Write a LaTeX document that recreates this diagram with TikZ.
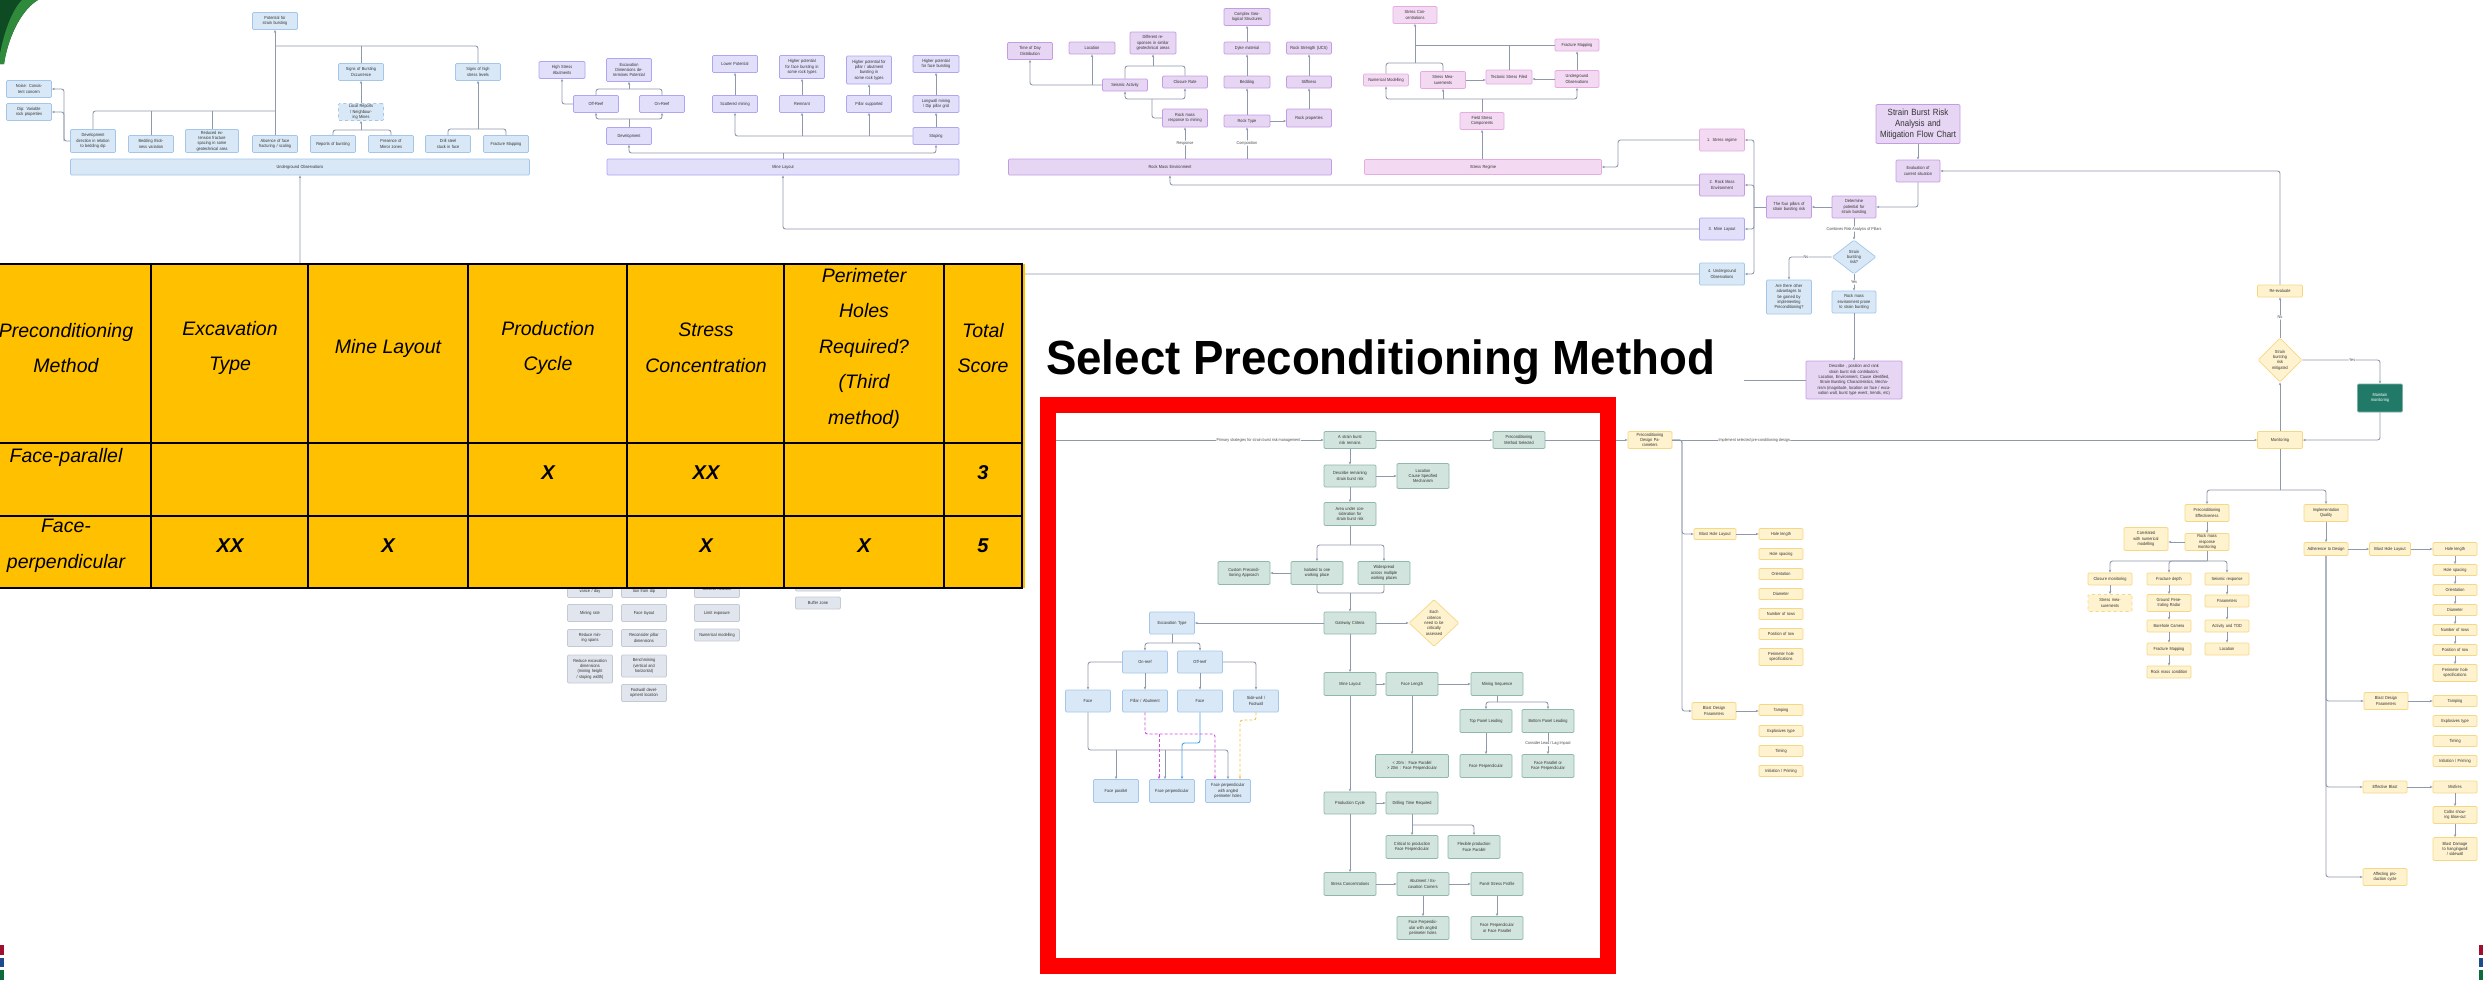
\documentclass[tikz,border=0pt]{standalone}
\usepackage{fontspec}
\setmainfont{Liberation Sans}
\newfontfamily\nf[FakeStretch=0.88]{Liberation Sans}
\newfontfamily\headf[FakeStretch=0.95]{Liberation Sans}
\usetikzlibrary{arrows.meta,shapes.geometric}

\definecolor{cLine}{HTML}{8E9AAB}
\definecolor{cBlueF}{HTML}{D9E8F6}
\definecolor{cBlueD}{HTML}{A3C6EA}
\definecolor{cLavF}{HTML}{E1DFFA}
\definecolor{cLavD}{HTML}{ADA6F0}
\definecolor{cPurF}{HTML}{E6D5F3}
\definecolor{cPurD}{HTML}{C59CE3}
\definecolor{cPinkF}{HTML}{F4D9F2}
\definecolor{cPinkD}{HTML}{E5ACE1}
\definecolor{cGrnF}{HTML}{D2E4DE}
\definecolor{cGrnD}{HTML}{8FB8AB}
\definecolor{cYelF}{HTML}{FFF2CE}
\definecolor{cYelD}{HTML}{F5D884}
\definecolor{cGryF}{HTML}{E1E5ED}
\definecolor{cGryD}{HTML}{C3CAD6}
\definecolor{cTeal}{HTML}{217A68}
\definecolor{cTab}{HTML}{FFC000}
\definecolor{cRed}{HTML}{FF0000}
\definecolor{cMag}{HTML}{D24BE0}
\definecolor{cAzure}{HTML}{4A9FE6}
\definecolor{cAmber}{HTML}{F4C040}
\definecolor{cLogoA}{HTML}{0E4A22}
\definecolor{cLogoB}{HTML}{2F8A3C}
\definecolor{cFlagR}{HTML}{A0102E}
\definecolor{cFlagB}{HTML}{1E4B8E}
\definecolor{cFlagG}{HTML}{0C6B3B}

\tikzset{
  sz/.code 2 args={\pgfmathsetmacro\bxtw{#1*0.75}\edef\bxtmp{\noexpand\tikzset{minimum width=#1pt,minimum height=#2pt,text width=\bxtw pt}}\bxtmp},
  one/.style={text width=41pt},
  nb/.style={draw, line width=0.7pt, rounded corners=1.2pt, align=center, inner xsep=0pt, inner ysep=0.3pt, font=\nf\fontsize{4.4}{5.4}\selectfont, text=black!80},
  uo/.style={nb, fill=cBlueF, draw=cBlueD},
  ml/.style={nb, fill=cLavF, draw=cLavD},
  rm/.style={nb, fill=cPurF, draw=cPurD},
  sr/.style={nb, fill=cPinkF, draw=cPinkD},
  gn/.style={nb, fill=cGrnF, draw=cGrnD},
  yl/.style={nb, fill=cYelF, draw=cYelD},
  gy/.style={nb, fill=cGryF, draw=cGryD},
  ln/.style={draw=cLine, line width=0.9pt, rounded corners=2.5pt},
  ar/.style={ln, -{Stealth[length=3pt,width=2.4pt]}},
  mg/.style={draw=cMag, line width=0.9pt, dash pattern=on 3pt off 2pt, rounded corners=2.5pt, -{Stealth[length=3pt,width=2.4pt]}},
  bl/.style={draw=cAzure, line width=0.9pt, rounded corners=2.5pt, -{Stealth[length=3pt,width=2.4pt]}},
  am/.style={draw=cAmber, line width=0.9pt, dash pattern=on 3pt off 2pt, rounded corners=2.5pt, -{Stealth[length=3pt,width=2.4pt]}},
  lbl/.style={fill=white, inner sep=0.6pt, font=\nf\fontsize{4.2}{5}\selectfont, text=black!70},
  th/.style={align=center, font=\itshape\fontsize{19.5}{35.5}\selectfont, inner sep=0pt},
  tx/.style={font=\bfseries\itshape\fontsize{20}{24}\selectfont, inner sep=0pt},
}

\begin{document}
\begin{tikzpicture}[x=1pt,y=-1pt]
\fill[white] (0,0) rectangle (2483,980);
\useasboundingbox (0,0) rectangle (2483,980);

% corner logo and flag bars
\fill[cLogoA] (0,0) -- (38,0) .. controls (24,8) and (9,32) .. (4,64) -- (0,64) -- cycle;
\fill[cLogoB] (22,0) -- (38,0) .. controls (24,8) and (9,32) .. (4,64) -- (0,64) -- (0,54) .. controls (4,32) and (12,10) .. (22,0) -- cycle;
\foreach \xx in {0,2479}{
  \fill[cFlagR] (\xx,945) rectangle ++(4,10);
  \fill[cFlagB] (\xx,958) rectangle ++(4,9);
  \fill[cFlagG] (\xx,970) rectangle ++(4,10);
}

% ---------- Underground observations ----------
\node[uo,sz={45}{17}] (P0) at (275,21) {Potential for strain bursting};
\node[uo,sz={45}{17}] (SB) at (361,72) {Signs of Bursting Occurrence};
\node[uo,sz={45}{17}] (SH) at (478,72) {Signs of high stress levels};
\node[uo,sz={45}{17},dashed] (LR) at (361,112) {Local Reports / Neighbouring Mines};
\node[uo,sz={45}{17}] (NZ) at (29,89) {Noise: Consistent concern};
\node[uo,sz={45}{17}] (DP) at (29,112) {Dip: Variable rock properties};
\node[uo,sz={45}{23}] (DV) at (93,141) {Development direction in relation to bedding dip};
\node[uo,sz={45}{17}] (BT) at (151,144) {Bedding thickness variation};
\node[uo,sz={53}{23}] (RE) at (212,141) {Reduced extension fracture spacing in some geotechnical area};
\node[uo,sz={45}{17}] (AF) at (275,144) {Absence of face fracturing / scaling};
\node[uo,sz={45}{17}] (RB) at (333,144) {Reports of bursting};
\node[uo,sz={45}{17}] (MZ) at (391,144) {Presence of Mirror zones};
\node[uo,sz={45}{17}] (DS) at (448,144) {Drill steel stuck in face};
\node[uo,sz={45}{17}] (FM1) at (506,144) {Fracture Mapping};
\node[uo,sz={459}{16}] (UO) at (300,167) {Underground Observations};

\coordinate (j1) at (275,111);
\coordinate (j2) at (275,46);
\draw[ln] (DV.north) |- (j1);
\draw[ln] (BT.north) -- (BT.north |- j1);
\draw[ln] (RE.north) -- (RE.north |- j1);
\draw[ar] (AF.north) -- (P0.south);
\draw[ln] (SH.north) |- (j2);
\draw[ln] (SB.north) -- (SB.north |- j2);
\coordinate (j3) at (361,130);
\draw[ln] (RB.north) |- (j3) -| (MZ.north);
\draw[ar] (j3) -- (LR.south);
\draw[ar] (LR.north) -- (SB.south);
\coordinate (j4) at (478,129);
\draw[ln] (DS.north) |- (j4) -| (FM1.north);
\draw[ar] (j4) -- (SH.south);
\coordinate (j5) at (64,141);
\draw[ar] (DV.west) -- (j5) |- (NZ.east);
\draw[ar] (j5) |- (DP.east);

% ---------- Mine layout ----------
\node[ml,sz={46}{17}] (HS) at (562,70) {High Stress Abutments};
\node[ml,sz={45}{23}] (XD) at (629,70) {Excavation Dimensions determines Potential};
\node[ml,sz={45}{17}] (OFF) at (596,104) {Off-Reef};
\node[ml,sz={45}{17}] (ON) at (662,104) {On-Reef};
\node[ml,sz={45}{17}] (DEV) at (629,136) {Development};
\node[ml,sz={45}{17}] (SC) at (735,104) {Scattered mining};
\node[ml,sz={45}{17}] (RM) at (802,104) {Remnant};
\node[ml,sz={45}{17}] (PS) at (869,104) {Pillar supported};
\node[ml,sz={46}{17}] (LW) at (936,104) {Longwall mining / Dip pillar grid};
\node[ml,sz={46}{17}] (ST) at (936,136) {Stoping};
\node[ml,sz={45}{17}] (LP) at (735,64) {Lower Potential};
\node[ml,sz={45}{23}] (HF1) at (802,67) {Higher potential for face bursting in some rock types};
\node[ml,sz={45}{28}] (HP) at (869,70) {Higher potential for pillar / abutment bursting in some rock types};
\node[ml,sz={46}{17}] (HF2) at (936,64) {Higher potential for face bursting};
\node[ml,sz={352}{16}] (ML) at (783,167) {Mine Layout};

\coordinate (k1) at (783,153);
\draw[ln] (ML.north) -- (k1);
\draw[ar] (k1) -| (DEV.south);
\draw[ar] (k1) -| (ST.south);
\coordinate (k2) at (629,119);
\draw[ln] (DEV.north) -- (k2);
\draw[ar] (k2) -| (OFF.south);
\draw[ar] (k2) -| (ON.south);
\coordinate (k3) at (629,89);
\draw[ln] (OFF.north) |- (k3) -| (ON.north);
\draw[ar] (k3) -- (XD.south);
\draw[ar] (OFF.west) -| (HS.south);
\draw[ar] (ST.west) -| (SC.south);
\draw[ar] (ST.west -| RM.south) -- (RM.south);
\draw[ar] (ST.west -| PS.south) -- (PS.south);
\draw[ar] (ST.north) -- (LW.south);
\draw[ar] (SC.north) -- (LP.south);
\draw[ar] (RM.north) -- (HF1.south);
\draw[ar] (PS.north) -- (HP.south);
\draw[ar] (LW.north) -- (HF2.south);

% ---------- Rock mass environment ----------
\node[rm,sz={45}{17}] (TD) at (1030,51) {Time of Day Distribution};
\node[rm,sz={46}{12}] (LO) at (1092,48) {Location};
\node[rm,sz={46}{22}] (DR) at (1153,43) {Different responses in similar geotechnical areas};
\node[rm,sz={46}{17}] (CG) at (1247,17) {Complex Geological Structures};
\node[rm,sz={46}{12}] (DY) at (1247,48) {Dyke material};
\node[rm,sz={45}{12},one] (RS) at (1309,48) {Rock Strength (UCS)};
\node[rm,sz={45}{12}] (SA) at (1125,85) {Seismic Activity};
\node[rm,sz={45}{12}] (CR) at (1185,82) {Closure Rate};
\node[rm,sz={46}{12}] (BD) at (1247,82) {Bedding};
\node[rm,sz={45}{12}] (SF) at (1309,82) {Stiffness};
\node[rm,sz={45}{18}] (RR) at (1185,118) {Rock mass response to mining};
\node[rm,sz={46}{12}] (RT) at (1247,121) {Rock Type};
\node[rm,sz={45}{18}] (RP) at (1309,118) {Rock properties};
\node[rm,sz={323}{16}] (RME) at (1170,167) {Rock Mass Environment};

\draw[ar] (RR |- RME.north) -- node[lbl]{Response} (RR.south);
\draw[ar] (RT |- RME.north) -- node[lbl]{Composition} (RT.south);
\coordinate (m1) at (1152,99);
\draw[ln] (RR.west) -| (m1);
\draw[ar] (m1) -| (SA.south);
\draw[ar] (m1) -| (CR.south);
\coordinate (m2) at (1153,66);
\draw[ln] (SA.north) |- (m2) -| (CR.north);
\draw[ar] (m2) -- (DR.south);
\draw[ar] (SA.west) -| (TD.south);
\draw[ar] (SA.west -| LO.south) -- (LO.south);
\draw[ar] (RT.north) -- (BD.south);
\draw[ar] (BD.north) -- (DY.south);
\draw[ar] (DY.north) -- (CG.south);
\draw[ar] (RT.east) -- (RT.east -| RP.west);
\draw[ar] (RP.north) -- (SF.south);
\draw[ar] (SF.north) -- (RS.south);

% ---------- Stress regime ----------
\node[sr,sz={44}{17}] (SCn) at (1415,15) {Stress Concentrations};
\node[sr,sz={45}{12},one] (NM) at (1386,80) {Numerical Modelling};
\node[sr,sz={45}{17}] (SM) at (1443,80) {Stress Measurements};
\node[sr,sz={46}{14},text width=42pt] (TS) at (1509,77) {Tectonic Stress Filed};
\node[sr,sz={44}{12}] (FM2) at (1577,45) {Fracture Mapping};
\node[sr,sz={44}{17}] (UO2) at (1577,79) {Underground Observations};
\node[sr,sz={44}{17}] (FS) at (1482,121) {Field Stress Components};
\node[sr,sz={237}{15}] (SRg) at (1483,167) {Stress Regime};

\draw[ar] (FS |- SRg.north) -- (FS.south);
\coordinate (n1) at (1482,99);
\draw[ln] (FS.north) -- (n1);
\draw[ar] (n1) -| (NM.south);
\draw[ar] (n1) -| (UO2.south);
\draw[ar] (n1 -| SM.south) -- (SM.south);
\coordinate (n2) at (1415,63);
\draw[ln] (NM.north) |- (n2) -| (SM.north);
\draw[ar] (n2) -- (SCn.south);
\draw[ln] (FM2.west) -- (FM2.west -| SCn.south);
\draw[ln] (TS.north) -- (TS.north |- FM2.west);
\draw[ar] (SM.east) -- (SM.east -| TS.west);
\draw[ar] (UO2.west) -- (UO2.west -| TS.east);
\draw[ar] (UO2.north) -- (FM2.south);

% ---------- Risk analysis ----------
\node[rm,minimum width=84pt,minimum height=39pt,text width=80pt,font=\nf\fontsize{9}{11.3}\selectfont] (T0) at (1918,124) {Strain Burst Risk Analysis and Mitigation Flow Chart};
\node[rm,sz={44}{22}] (EV) at (1918,171) {Evaluation of current situation};
\node[rm,sz={44}{22}] (DT) at (1854,207) {Determine potential for strain bursting};
\node[rm,sz={45}{22}] (FP) at (1789,207) {The four pillars of strain bursting risk};
\node[sr,sz={45}{22}] (PL1) at (1722,140) {1.\enspace Stress regime};
\node[rm,sz={45}{22}] (PL2) at (1722,185) {2.\enspace Rock Mass Environment};
\node[ml,sz={45}{22}] (PL3) at (1722,229) {3.\enspace Mine Layout};
\node[uo,sz={45}{22}] (PL4) at (1722,274) {4.\enspace Underground Observations};
\node[uo,shape=diamond,minimum width=44pt,minimum height=34pt,text width=16pt,inner sep=0pt] (DQ) at (1854,257) {Strain bursting risk?};
\node[uo,sz={45}{34}] (AO) at (1789,297) {Are there other advantages to be gained by implementing Preconditioning?};
\node[uo,sz={44}{22}] (RP2) at (1854,302) {Rock mass environment prone to strain bursting};
\node[rm,minimum width=96pt,minimum height=38pt,text width=86pt] (DE) at (1854,380) {Describe , position and rank strain burst risk contributors:\\Location, Environment, Cause identified, Strain Bursting Characteristics, Mechanism (magnitude, location on face / excavation wall, burst type event, trends, etc)};

\draw[ar] (T0.south) -- (EV.north);
\draw[ar] (EV.south) |- (DT.east);
\draw[ar] (DT.west) -- (FP.east);
\coordinate (q1) at (1754,207);
\draw[ln] (FP.west) -- (q1);
\foreach \p in {PL1,PL2,PL3,PL4} \draw[ar] (q1) |- (\p.east);
\draw[ar] (DT.south) -- node[lbl]{Combines Risk Analysis of Pillars} (DQ.north);
\draw[ar] (DQ.west) -| node[lbl,pos=0.3]{No} (AO.north);
\draw[ar] (DQ.south) -- node[lbl]{Yes} (RP2.north);
\draw[ar] (RP2.south) -- (DE.north);
\coordinate (q2) at (1744,380);
\draw[ln] (DE.west) -- (q2);
\coordinate (q3) at (1618,150);
\draw[ar] (PL1.west) -| (q3) |- (SRg.east);
\draw[ar] (PL2.west) -| (RME.south);
\draw[ar] (PL3.west) -| (ML.south);
\draw[ar] (PL4.west) -| (UO.south);

% ---------- Monitoring ----------
\node[yl,sz={45}{12}] (RV) at (2280,291) {Re-evaluate};
\node[yl,shape=diamond,minimum width=44pt,minimum height=44pt,text width=18pt,inner sep=0pt] (DM) at (2280,360) {Strain bursting risk mitigated};
\node[nb,sz={45}{28},fill=cTeal,draw=cTeal!60!white,text=white] (MM) at (2380,398) {Maintain monitoring};
\node[yl,sz={45}{17}] (MO) at (2280,440) {Monitoring};
\node[yl,sz={44}{17}] (PDP) at (1650,440) {Preconditioning Design Parameters};

\draw[ar] (MO.north) -- (DM.south);
\draw[ar] (DM.north) -- node[lbl]{No} (RV.south);
\draw[ar] (RV.north) |- (EV.east);
\draw[ar] (DM.east) -| node[lbl,pos=0.32]{Yes} (MM.north);
\draw[ar] (MM.south) |- (MO.east);
\draw[ar] (PDP.east) -- node[lbl,pos=0.14]{Implement selected pre-conditioning design} (MO.west);

\node[yl,sz={44}{17}] (PE) at (2207,513) {Preconditioning Effectiveness};
\node[yl,sz={44}{17}] (IQ) at (2326,513) {Implementation Quality};
\coordinate (r1) at (2280,490);
\draw[ln] (MO.south) -- (r1);
\draw[ar] (r1) -| (PE.north);
\draw[ar] (r1) -| (IQ.north);
\node[yl,sz={44}{17}] (RMR) at (2207,542) {Rock mass response monitoring};
\node[yl,sz={44}{23}] (CN) at (2146,539) {Correlated with numerical modelling};
\draw[ar] (PE.south) -- (RMR.north);
\draw[ar] (RMR.west) -- (RMR.west -| CN.east);

\node[yl,sz={44}{12}] (CM) at (2110,579) {Closure monitoring};
\node[yl,sz={44}{12}] (FD) at (2169,579) {Fracture depth};
\node[yl,sz={44}{12}] (SRp) at (2227,579) {Seismic response};
\coordinate (r2) at (2207,561);
\draw[ln] (RMR.south) -- (r2);
\draw[ar] (r2) -| (CM.north);
\draw[ar] (r2) -| (FD.north);
\draw[ar] (r2) -| (SRp.north);
\node[yl,sz={44}{17},dashed] (SMe) at (2110,603) {Stress measurements};
\node[yl,sz={44}{17}] (GPR) at (2169,603) {Ground Penetrating Radar};
\node[yl,sz={44}{12}] (PA) at (2227,601) {Parameters};
\node[yl,sz={44}{12}] (BC) at (2169,626) {Borehole Camera};
\node[yl,sz={44}{12}] (AT) at (2227,626) {Activity and TOD};
\node[yl,sz={44}{12}] (FMp) at (2169,649) {Fracture Mapping};
\node[yl,sz={44}{12}] (LOc) at (2227,649) {Location};
\node[yl,sz={44}{12},one] (RC) at (2169,672) {Rock mass condition};
\draw[ar] (CM.south) -- (SMe.north);
\draw[ar] (FD.south) -- (GPR.north);
\draw[ar] (GPR.south) -- (BC.north);
\draw[ar] (BC.south) -- (FMp.north);
\draw[ar] (FMp.south) -- (RC.north);
\draw[ar] (SRp.south) -- (PA.north);
\draw[ar] (PA.south) -- (AT.north);
\draw[ar] (AT.south) -- (LOc.north);

\node[yl,sz={44}{13},one] (AD) at (2326,549) {Adherence to Design};
\node[yl,sz={41}{13},one] (BHL2) at (2390,549) {Blast Hole Layout};
\node[yl,sz={44}{13}] (HL2) at (2455,549) {Hole length};
\node[yl,sz={44}{11}] (HS2) at (2455,570) {Hole spacing};
\node[yl,sz={44}{11}] (OR2) at (2455,590) {Orientation};
\node[yl,sz={44}{11}] (DI2) at (2455,610) {Diameter};
\node[yl,sz={44}{11}] (NR2) at (2455,630) {Number of rows};
\node[yl,sz={44}{11}] (PR2) at (2455,650) {Position of row};
\node[yl,sz={44}{17}] (PH2) at (2455,673) {Perimeter hole specifications};
\draw[ar] (IQ.south) -- (AD.north);
\draw[ar] (AD.east) -- (BHL2.west);
\draw[ar] (BHL2.east) -- (HL2.west);
\draw[ar] (HL2.south) -- (HS2.north);
\draw[ar] (HS2.south) -- (OR2.north);
\draw[ar] (OR2.south) -- (DI2.north);
\draw[ar] (DI2.south) -- (NR2.north);
\draw[ar] (NR2.south) -- (PR2.north);
\draw[ar] (PR2.south) -- (PH2.north);

\node[yl,sz={44}{17}] (BDP2) at (2386,701) {Blast Design Parameters};
\node[yl,sz={44}{11}] (TA2) at (2455,701) {Tamping};
\node[yl,sz={44}{11}] (EX2) at (2455,721) {Explosives type};
\node[yl,sz={44}{11}] (TI2) at (2455,741) {Timing};
\node[yl,sz={44}{11}] (IP2) at (2455,761) {Initiation / Priming};
\node[yl,sz={44}{12}] (EB) at (2385,787) {Effective Blast};
\node[yl,sz={44}{12}] (MF) at (2455,787) {Misfires};
\node[yl,sz={44}{17}] (CB) at (2455,815) {Collar showing blow-out};
\node[yl,sz={44}{23}] (BDm) at (2455,849) {Blast Damage to hangingwall / sidewall};
\node[yl,sz={44}{17}] (AP) at (2385,877) {Affecting production cycle};
\draw[ar] (BDP2.east) -- (TA2.west);
\draw[ar] (EB.east) -- (MF.west);
\draw[ar] (MF.south) -- (CB.north);
\draw[ar] (CB.south) -- (BDm.north);
\draw[ar] (AD.south) |- (BDP2.west);
\draw[ar] (AD.south) |- (EB.west);
\draw[ar] (AD.south) |- (AP.west);

\node[yl,sz={42}{11}] (BHL1) at (1715,534) {Blast Hole Layout};
\node[yl,sz={44}{11}] (HL1) at (1781,534) {Hole length};
\node[yl,sz={44}{11}] (HS1) at (1781,554) {Hole spacing};
\node[yl,sz={44}{11}] (OR1) at (1781,574) {Orientation};
\node[yl,sz={44}{11}] (DI1) at (1781,594) {Diameter};
\node[yl,sz={44}{11}] (NR1) at (1781,614) {Number of rows};
\node[yl,sz={44}{11}] (PR1) at (1781,634) {Position of row};
\node[yl,sz={44}{17}] (PH1) at (1781,657) {Perimeter hole specifications};
\node[yl,sz={44}{17}] (BDP1) at (1714,711) {Blast Design Parameters};
\node[yl,sz={44}{11}] (TA1) at (1781,710) {Tamping};
\node[yl,sz={44}{11}] (EX1) at (1781,731) {Explosives type};
\node[yl,sz={44}{11}] (TI1) at (1781,751) {Timing};
\node[yl,sz={44}{11}] (IP1) at (1781,771) {Initiation / Priming};
\coordinate (s1) at (1682,520);
\draw[ar] (PDP.east) -| (s1) |- (BHL1.west);
\draw[ar] (PDP.east) -| (s1) |- (BDP1.west);
\draw[ar] (BHL1.east) -- (HL1.west);
\draw[ar] (BDP1.east) -- (BDP1.east -| TA1.west);

% ---------- Preconditioning method selection ----------
\node[gn,sz={52}{17}] (A1) at (1350,440) {A strain burst risk remains};
\node[gn,sz={52}{17}] (A2) at (1519,440) {Preconditioning Method Selected};
\coordinate (t0) at (1040,440);
\draw[ar] (t0) -- node[lbl,pos=0.77]{Primary strategies for strain burst risk management} (A1.west);
\draw[ar] (A1.east) -- (A2.west);
\draw[ar] (A2.east) -- (PDP.west);
\node[gn,sz={52}{22}] (B1) at (1350,476) {Describe remaining strain burst risk};
\node[gn,sz={52}{25}] (B2) at (1423,476) {Location\\Cause Specified\\Mechanism};
\node[gn,sz={52}{23}] (B3) at (1350,514) {Area under consideration for strain burst risk};
\node[gn,sz={52}{23}] (C1) at (1244,573) {Custom Preconditioning Approach};
\node[gn,sz={52}{23}] (C2) at (1317,573) {Isolated to one working place};
\node[gn,sz={52}{23}] (C3) at (1384,573) {Widespread across multiple working places};
\node[gn,sz={52}{22}] (G1) at (1350,623) {Gateway Criteria};
\node[yl,shape=diamond,minimum width=50pt,minimum height=46pt,text width=22pt,inner sep=0pt] (GD) at (1434,623) {Each criterion need to be critically assessed};
\node[uo,sz={45}{22}] (ET) at (1172,623) {Excavation Type};
\node[uo,sz={45}{22}] (OR) at (1145,662) {On-reef};
\node[uo,sz={45}{22}] (OF) at (1200,662) {Off-reef};
\node[uo,sz={45}{22}] (F1) at (1088,701) {Face};
\node[uo,sz={45}{22}] (F2) at (1145,701) {Pillar / Abutment};
\node[uo,sz={45}{22}] (F3) at (1200,701) {Face};
\node[uo,sz={45}{22}] (F4) at (1256,701) {Side-wall / Footwall};
\node[uo,sz={45}{23}] (L1) at (1116,791) {Face parallel};
\node[uo,sz={45}{23}] (L2) at (1172,791) {Face perpendicular};
\node[uo,sz={45}{23}] (L3) at (1228,791) {Face perpendicular with angled perimeter holes};
\node[gn,sz={52}{23}] (M1) at (1350,684) {Mine Layout};
\node[gn,sz={52}{23}] (M2) at (1412,684) {Face Length};
\node[gn,sz={52}{23}] (M3) at (1497,684) {Mining Sequence};
\node[gn,sz={52}{23}] (M4) at (1486,721) {Top Panel Leading};
\node[gn,sz={52}{23}] (M5) at (1548,721) {Bottom Panel Leading};
\node[gn,sz={73}{23}] (N1) at (1412,766) {< 20m : Face Parallel\\> 20m : Face Perpendicular};
\node[gn,sz={52}{23}] (N2) at (1486,766) {Face Perpendicular};
\node[gn,sz={52}{23}] (N3) at (1548,766) {Face Parallel or Face Perpendicular};
\node[gn,sz={52}{22}] (P1) at (1350,803) {Production Cycle};
\node[gn,sz={52}{22}] (P2) at (1412,803) {Drilling Time Required};
\node[gn,sz={52}{23}] (P3) at (1412,847) {Critical to production\\Face Perpendicular};
\node[gn,sz={52}{23}] (P4) at (1474,847) {Flexible production\\Face Parallel};
\node[gn,sz={52}{23}] (S1) at (1350,884) {Stress Concentrations};
\node[gn,sz={52}{23}] (S2) at (1423,884) {Abutment / Excavation Corners};
\node[gn,sz={52}{23}] (S3) at (1497,884) {Panel Stress Profile};
\node[gn,sz={52}{23}] (S4) at (1423,928) {Face Perpendicular with angled perimeter holes};
\node[gn,sz={52}{23}] (S5) at (1497,928) {Face Perpendicular or Face Parallel};

\draw[ar] (A1.south) -- (B1.north);
\draw[ar] (B1.east) -- (B2.west);
\draw[ar] (B1.south) -- (B3.north);
\coordinate (u1) at (1350,545);
\draw[ln] (B3.south) -- (u1);
\draw[ar] (u1) -| (C2.north);
\draw[ar] (u1) -| (C3.north);
\draw[ar] (C2.west) -- (C1.east);
\coordinate (u2) at (1350,593);
\draw[ln] (C2.south) |- (u2) -| (C3.south);
\draw[ar] (u2) -- (G1.north);
\draw[ar] (G1.west) -- (ET.east);
\draw[ar] (G1.east) -- (GD.west);
\coordinate (u3) at (1172,643);
\draw[ln] (ET.south) -- (u3);
\draw[ar] (u3) -| (OR.north);
\draw[ar] (u3) -| (OF.north);
\draw[ar] (OR.west) -| (F1.north);
\draw[ar] (OR.south) -- (F2.north);
\draw[ar] (OF.south) -- (F3.north);
\draw[ar] (OF.east) -| (F4.north);
\draw[ar] (G1.south) -- (M1.north);
\draw[ar] (M1.east) -- (M2.west);
\draw[ar] (M2.east) -- (M3.west);
\coordinate (u4) at (1497,702);
\draw[ln] (M3.south) -- (u4);
\draw[ar] (u4) -| (M4.north);
\draw[ar] (u4) -| (M5.north);
\draw[ar] (M2.south) -- (N1.north);
\draw[ar] (M4.south) -- (N2.north);
\draw[ar] (M5.south) -- node[lbl]{Consider Lead / Lag Impact} (N3.north);
\draw[ar] (M1.south) -- (P1.north);
\draw[ar] (P1.east) -- (P2.west);
\coordinate (u5) at (1412,825);
\draw[ln] (P2.south) -- (u5);
\draw[ar] (u5) -- (P3.north);
\draw[ar] (u5) -| (P4.north);
\draw[ar] (P1.south) -- (S1.north);
\draw[ar] (S1.east) -- (S2.west);
\draw[ar] (S2.east) -- (S3.west);
\draw[ar] (S2.south) -- (S4.north);
\draw[ar] (S3.south) -- (S5.north);

% excavation type outcomes
\coordinate (v1) at (1088,750);
\coordinate (v2) at (1165,750);
\draw[ar] (F1.south) -- (v1) -| (L3.north);
\draw[ar] (v1 -| L1.north) -- (L1.north);
\draw[ar] (v2) -- (v2 |- L2.north);
\coordinate (w3) at (1159,734);
\coordinate (w4) at (1215,734);
\draw[mg] (F2.south) |- (w4) -- (w4 |- L3.north);
\draw[mg] (w3) -- (w3 |- L2.north);
\coordinate (w5) at (1182,743);
\draw[bl] (F3.south) |- (w5) -- (w5 |- L2.north);
\coordinate (w6) at (1240,720);
\draw[am] (F4.south) |- (w6) -- (w6 |- L3.north);

% ---------- mitigation option boxes ----------
\node[gy,sz={45}{17}] (gA) at (590,589) {Face advance / day};
\node[gy,sz={45}{17}] (gB) at (590,613) {Mining rate};
\node[gy,sz={45}{17}] (gC) at (590,638) {Reduce mining spans};
\node[gy,sz={45}{28}] (gD) at (590,669) {Reduce excavation dimensions (mining height / stoping width)};
\node[gy,sz={45}{17}] (gE) at (644,589) {Mining direction from dip};
\node[gy,sz={45}{17}] (gF) at (644,613) {Face layout};
\node[gy,sz={45}{17}] (gG) at (644,638) {Reconsider pillar dimensions};
\node[gy,sz={45}{22}] (gH) at (644,666) {Benchmining (vertical and horizontal)};
\node[gy,sz={45}{17}] (gI) at (644,693) {Footwall development location};
\node[gy,sz={45}{17}] (gJ) at (717,589) {Seismic network};
\node[gy,sz={45}{17}] (gK) at (717,613) {Limit exposure};
\node[gy,sz={45}{12},one] (gL) at (717,635) {Numerical modelling};
\node[gy,sz={45}{12}] (gM) at (818,585) {};
\node[gy,sz={45}{12}] (gN) at (818,603) {Buffer zone};

% ---------- scoring table ----------
\fill[cTab] (-20,264) rectangle (1025,588);
\foreach \yy in {264,443,516,588} \draw[line width=2.6pt] (-20,\yy) -- (1023.3,\yy);
\foreach \xx in {151,308,468,627,784,944,1022} \draw[line width=2.6pt] (\xx,262.7) -- (\xx,589.3);
\node[th] (h1) at (66,348) {Preconditioning\\Method};
\node[th] (h2) at (230,348) {Excavation\\Type};
\node[th] (h3) at (388,348) {Mine Layout};
\node[th] (h4) at (548,348) {Production\\Cycle};
\node[th] (h5) at (706,348) {Stress\\Concentration};
\node[th] (h6) at (864,348) {Perimeter\\Holes\\Required?\\(Third\\method)};
\node[th] (h7) at (983,348) {Total\\Score};
\node[th] (ra) at (66,457) {Face-parallel};
\node[tx] (ra4) at (548,473) {X};
\node[tx] (ra5) at (706,473) {XX};
\node[tx] (ra7) at (983,473) {3};
\node[th] (rb) at (66,546) {Face-\\perpendicular};
\node[tx] (rb2) at (230,546) {XX};
\node[tx] (rb3) at (388,546) {X};
\node[tx] (rb5) at (706,546) {X};
\node[tx] (rb6) at (864,546) {X};
\node[tx] (rb7) at (983,546) {5};

% ---------- heading and highlight frame ----------
\node[anchor=base west, inner sep=0pt, font=\headf\bfseries\fontsize{48}{54}\selectfont] (TT) at (1046,374) {Select Preconditioning Method};
\draw[cRed, line width=16pt] (1048,405) rectangle (1608,966);
\end{tikzpicture}
\end{document}
